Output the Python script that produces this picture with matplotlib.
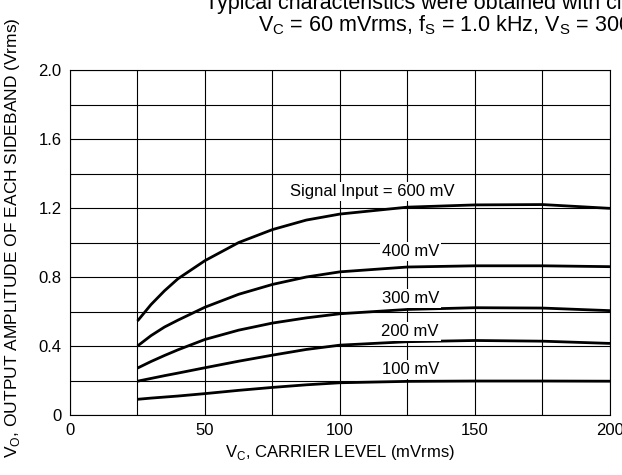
#!/usr/bin/env python3
import matplotlib
matplotlib.use("Agg")
import matplotlib.pyplot as plt
from matplotlib.ticker import MultipleLocator

# carrier level (mVrms) where the curves were read
carrier = [25, 30, 35, 40, 50, 62.5, 75, 87.5, 100, 125, 150, 175, 200]

# output amplitude of each sideband (Vrms), one list per signal input
out_600 = [0.545, 0.64, 0.72, 0.79, 0.895, 1.0, 1.075, 1.13, 1.165, 1.205, 1.218, 1.22, 1.198]
out_400 = [0.40, 0.46, 0.51, 0.55, 0.625, 0.70, 0.757, 0.80, 0.83, 0.858, 0.865, 0.865, 0.86]
out_300 = [0.272, 0.31, 0.345, 0.378, 0.438, 0.492, 0.533, 0.563, 0.587, 0.612, 0.622, 0.62, 0.605]
out_200 = [0.196, 0.212, 0.228, 0.243, 0.274, 0.312, 0.347, 0.38, 0.405, 0.425, 0.432, 0.428, 0.415]
out_100 = [0.091, 0.098, 0.104, 0.11, 0.124, 0.143, 0.16, 0.175, 0.187, 0.195, 0.197, 0.197, 0.196]

series = [out_600, out_400, out_300, out_200, out_100]
labels = ["Signal Input = 600 mV", "400 mV", "300 mV", "200 mV", "100 mV"]
label_pos = [(112, 1.295), (126, 0.947), (126, 0.676), (126, 0.483), (126, 0.261)]

xticks = [0, 50, 100, 150, 200]
yticks = [0, 0.4, 0.8, 1.2, 1.6, 2.0]
yticklabels = ["0", "0.4", "0.8", "1.2", "1.6", "2.0"]

plt.rcParams["font.family"] = ["Liberation Sans", "DejaVu Sans"]
plt.rcParams["mathtext.fontset"] = "custom"
plt.rcParams["mathtext.rm"] = "Liberation Sans"

fig = plt.figure(figsize=(6.22, 4.75), dpi=100)
ax = fig.add_axes([0.1125, 0.1263, 0.8682, 0.7263])

for ys in series:
    ax.plot(carrier, ys, color="black", lw=2.0, solid_capstyle="butt",
            solid_joinstyle="round", zorder=3)

for text, (x, y) in zip(labels, label_pos):
    ax.text(x, y, text, ha="center", va="center", fontsize=12, zorder=4,
            bbox=dict(facecolor="white", edgecolor="none", pad=1.5))

ax.set_xlim(0, 200)
ax.set_ylim(0, 2.0)
ax.xaxis.set_minor_locator(MultipleLocator(25))
ax.yaxis.set_minor_locator(MultipleLocator(0.2))
ax.set_xticks(xticks)
ax.set_xticklabels([str(t) for t in xticks])
ax.set_yticks(yticks)
ax.set_yticklabels(yticklabels)
ax.grid(True, which="both", color="black", lw=0.8, zorder=1)
ax.set_axisbelow(True)
ax.tick_params(which="both", length=0, labelsize=12, pad=6)
for sp in ax.spines.values():
    sp.set_linewidth(0.8)

ax.set_xlabel(r"V$_\mathrm{C}$, CARRIER LEVEL (mVrms)", fontsize=12, labelpad=3)
ax.set_ylabel(r"V$_\mathrm{O}$, OUTPUT AMPLITUDE OF EACH SIDEBAND (Vrms)",
              fontsize=12.5)
ax.yaxis.set_label_coords(-0.088, 0.515)

# header text, clipped by the figure edge as in the source page
fig.text(205 / 622, 1 - 4 / 475,
         "Typical characteristics were obtained with circuit shown in Figure",
         fontsize=15.5, va="center", ha="left")
fig.text(258 / 622, 1 - 25 / 475,
         r"V$_\mathrm{C}$ = 60 mVrms, f$_\mathrm{S}$ = 1.0 kHz, V$_\mathrm{S}$ = 300 mVrms",
         fontsize=15.5, va="center", ha="left")

fig.savefig("out.png", dpi=100)
